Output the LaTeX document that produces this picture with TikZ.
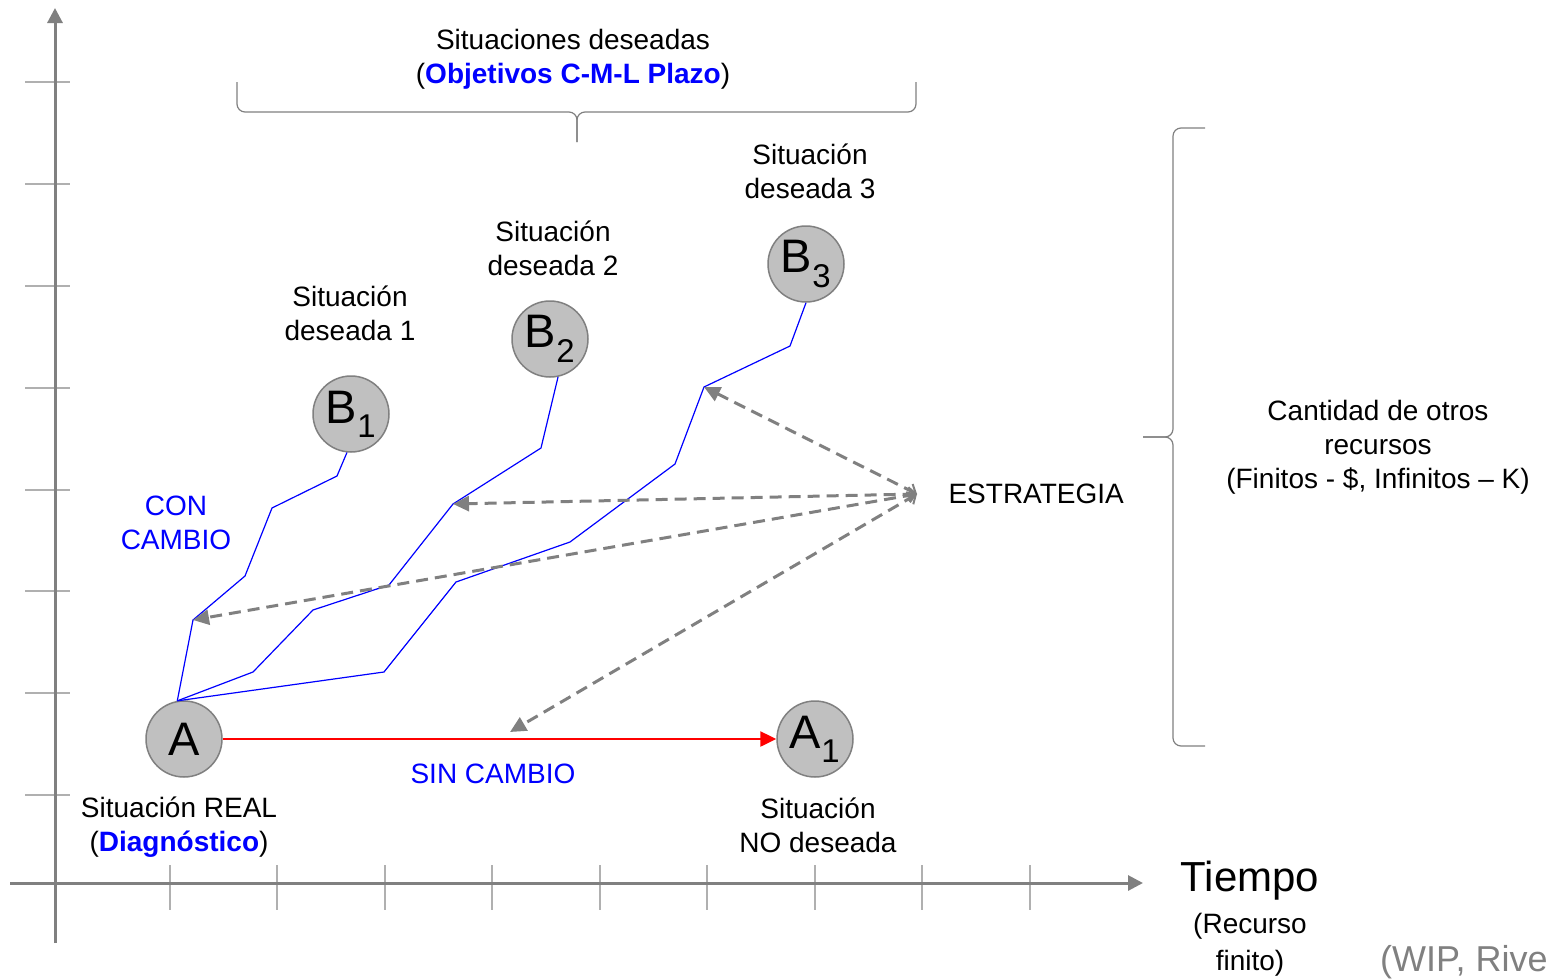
\documentclass[tikz,border=0pt]{standalone}
\usepackage{fontspec}
\setmainfont{Liberation Sans}
\usetikzlibrary{arrows.meta}
\definecolor{circfill}{HTML}{C0C0C0}
\definecolor{circline}{HTML}{808080}
\definecolor{tickgray}{HTML}{B0B0B0}
\begin{document}
\begin{tikzpicture}[x=1pt,y=-1pt,
    state/.style={circle, draw=circline, fill=circfill, line width=1.5pt, minimum size=76pt, inner sep=0pt, font=\fontsize{47}{47}\selectfont},
    txt/.style={align=center, font=\fontsize{28}{34}\selectfont},
    route/.style={blue, line width=1.2pt},
    strat/.style={circline, line width=3pt, dash pattern=on 12pt off 7pt, {Straight Barb[length=7pt,width=14pt,line width=2pt]}-{Triangle[length=16pt,width=15pt]}},
    axis/.style={circline, line width=3pt, -{Triangle[length=15pt,width=15pt]}},
    brace/.style={circline, line width=1.2pt, rounded corners=8pt}]
                        \useasboundingbox (0,0) rectangle (1548,980);
                        \clip (0,0) rectangle (1548,980);

                        % Axes
                        \foreach \y in {82,184,286,388,490,591,693,795}
                            \draw[tickgray, line width=1.5pt] (25,\y) -- (70,\y);
                        \foreach \x in {170,277,385,492,600,707,815,922,1030}
                            \draw[tickgray, line width=1.5pt] (\x,865) -- (\x,910);
                        \coordinate (o1) at (55,943);
                        \coordinate (ytop) at (55,8);
                        \coordinate (o2) at (10,883);
                        \coordinate (xend) at (1143,883);
                        \draw[axis] (o1) -- (ytop);
                        \draw[axis] (o2) -- (xend);

                        % Nodes
                        \node[state] (A) at (184,739) {A};
                        \node[state] (A1) at (815,739) {A\textsubscript{1}};
                        \node[state] (B1) at (351,414) {B\textsubscript{1}};
                        \node[state] (B2) at (550,339) {B\textsubscript{2}};
                        \node[state] (B3) at (806,264) {B\textsubscript{3}};

                        \node[txt] (realtxt) at (179,827) {Situación REAL\\(\textbf{\color{blue}Diagnóstico})};
                        \node[txt] (notxt) at (818,825) {Situación\\NO deseada};
                        \node[txt] (d1txt) at (350,313) {Situación\\deseada 1};
                        \node[txt] (d2txt) at (553,248) {Situación\\deseada 2};
                        \node[txt] (d3txt) at (810,171) {Situación\\deseada 3};
                        \node[txt, text=blue] (contxt) at (176,523) {CON\\CAMBIO};
                        \node[txt, text=blue] (sintxt) at (493,774) {SIN CAMBIO};
                        \node[txt] (objtxt) at (573,59) {Situaciones deseadas\\(\textbf{\color{blue}Objetivos C-M-L Plazo})};
                        \node[txt] (rectxt) at (1378,447) {Cantidad de otros\\recursos\\(Finitos - \$, Infinitos – K)};
                        \node[txt, anchor=west] (esttxt) at (945,494) {ESTRATEGIA};
                        \node[font=\fontsize{42}{42}\selectfont] (tiempo) at (1250,881) {Tiempo};
                        \node[align=center, font=\fontsize{28}{37}\selectfont] (finito) at (1250,945) {(Recurso\\finito)};
                        \node[font=\fontsize{36}{36}\selectfont, text=circline, anchor=west, inner sep=0pt] (wip) at (1380,962) {(WIP, Rive};

                        % Braces
                        \draw[brace] (237,82) -- (237,112) -- (577,112) -- (577,142);
                        \draw[brace] (916,82) -- (916,112) -- (577,112) -- (577,142);
                        \draw[brace] (1205,128) -- (1173,128) -- (1173,437) -- (1143,437);
                        \draw[brace] (1205,746) -- (1173,746) -- (1173,437) -- (1143,437);

                        % Edges
                        \draw[red, line width=2.5pt, -{Triangle[length=16pt,width=15pt]}] (A) -- (A1);

                        \coordinate (p1) at (193,620);
                        \coordinate (p2) at (453,504);
                        \coordinate (p3) at (704,387);
                        \coordinate (p4) at (510,732);
                        \draw[route] (A.100) -- (p1) -- (245,576) -- (272,508) -- (337,476) -- (B1.264);
                        \draw[route] (A.100) -- (253,672) -- (313,610) -- (389,585) -- (p2) -- (541,448) -- (B2.282);
                        \draw[route] (A.100) -- (384,672) -- (456,582) -- (570,542) -- (675,464) -- (p3) -- (790,346) -- (B3.south);

                        \coordinate (src) at (917,494);
                        \foreach \t in {p1,p2,p3,p4}
                            \draw[strat] (src) -- (\t);
                    \end{tikzpicture}
\end{document}
